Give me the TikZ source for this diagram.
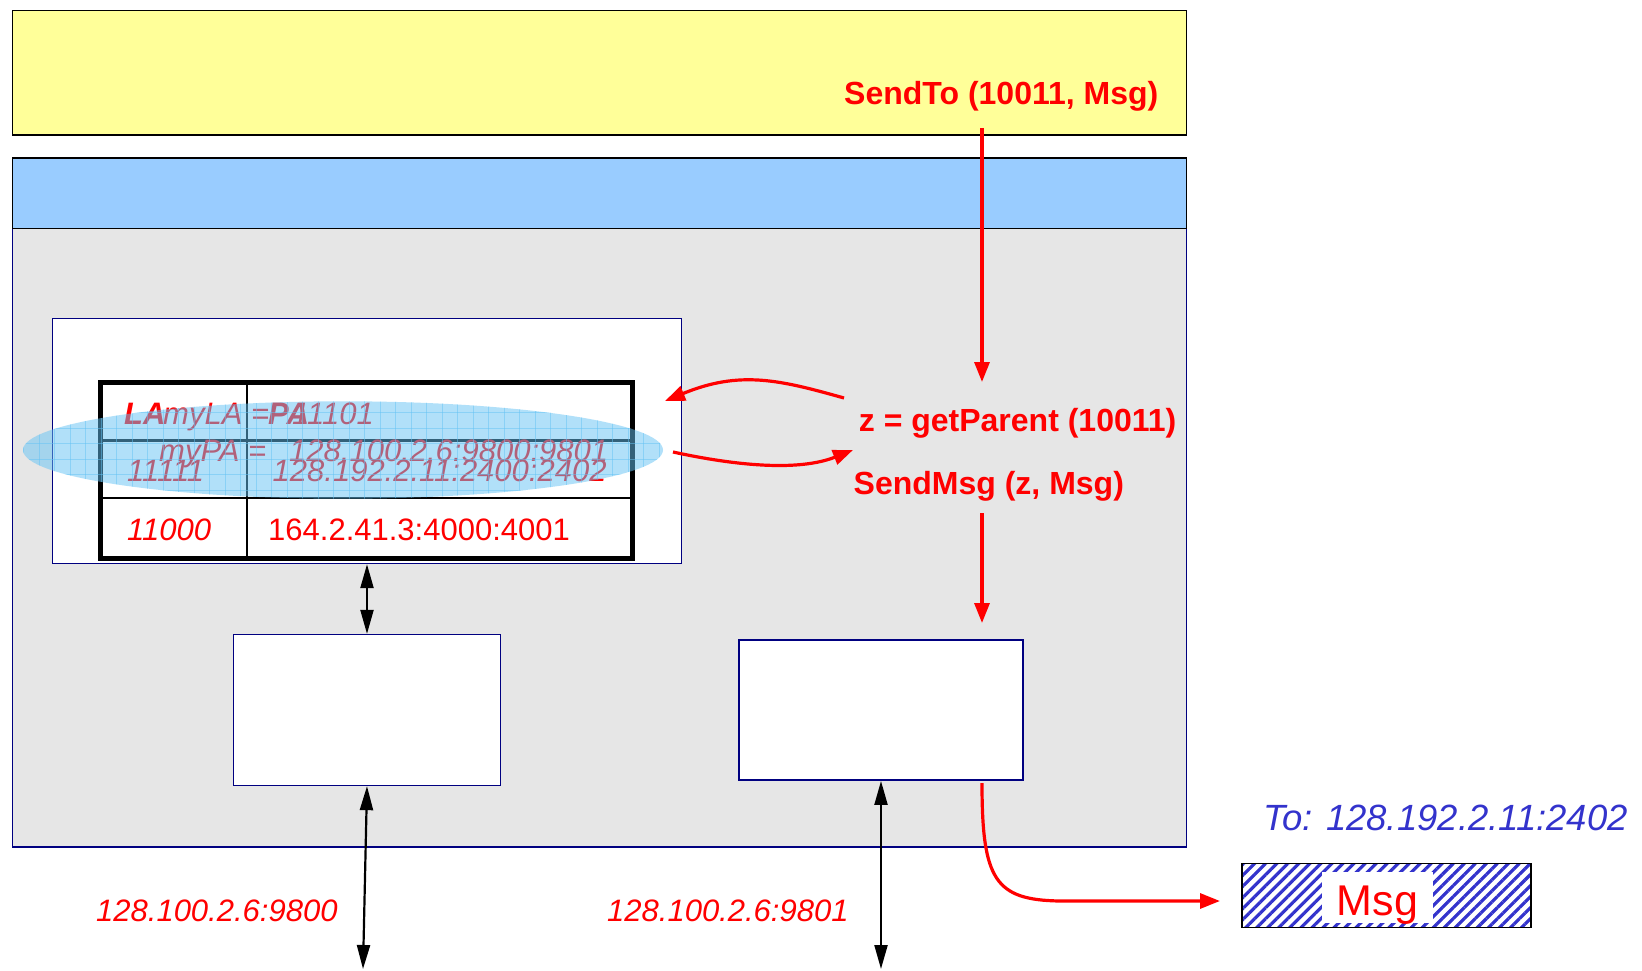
\documentclass[tikz,border=0pt]{standalone}
\usepackage{fontspec}
\setmainfont{Liberation Sans}
\usetikzlibrary{arrows.meta,patterns.meta,positioning}
\definecolor{appyellow}{RGB}{255,255,153}
\definecolor{hdrblue}{RGB}{153,204,255}
\definecolor{bodygray}{RGB}{230,230,230}
\definecolor{navy}{RGB}{0,0,128}
\definecolor{hatchblue}{RGB}{51,51,204}
\definecolor{ovalblue}{RGB}{100,195,245}
\begin{document}
\begin{tikzpicture}[x=1pt,y=-1pt,
    box/.style={draw=navy,fill=white,line width=1.5pt,inner sep=0pt},
    call/.style={red,font=\fontsize{32}{36}\selectfont\bfseries,inner sep=0pt,anchor=base west},
    cell/.style={red,font=\fontsize{31}{35}\selectfont\itshape,inner sep=0pt,anchor=base west},
    head/.style={cell,font=\fontsize{31}{35}\selectfont\bfseries\itshape},
    redarrow/.style={red,line width=3.2pt,-{Triangle[length=20pt,width=15pt]}},
    blackarrow/.style={black,line width=2.2pt,{Triangle[length=24pt,width=13pt]}-{Triangle[length=24pt,width=13pt]}}]
\useasboundingbox (0,0) rectangle (1642,971);

% layers
\node[draw=navy,fill=bodygray,line width=1.5pt,minimum width=1174,minimum height=618.7,inner sep=0pt] (body) at (599.5,537.7) {};
\node[draw=black,fill=hdrblue,line width=1.5pt,minimum width=1174,minimum height=70.3,inner sep=0pt] (hdr) at (599.5,193.2) {};
\node[draw=black,fill=appyellow,line width=1.5pt,minimum width=1174,minimum height=124.5,inner sep=0pt] (app) at (599.5,72.8) {};

% boxes
\node[box,minimum width=629.3,minimum height=245.1] (tblbox) at (367,440.9) {};
\node[box,minimum width=267,minimum height=150.8] (lbox) at (367,710) {};
\node[box,minimum width=283.7,minimum height=140.4] (rbox) at (881,710) {};

% table
\draw[line width=5pt] (100,382) rectangle (632,558);
\draw[line width=2.5pt] (100,440.7) -- (632,440.7) (100,498) -- (632,498) (247,382) -- (247,558);

\node[head] (la) at (124,424) {LA};
\node[head] (pa) at (268,424) {PA};
\node[cell] (myla) at (163,424) {myLA =};
\node[cell] (mylaval) at (292,424) {11101};
\node[cell] (mypa) at (159,461.7) {myPA =};
\node[cell] (mypaval) at (289,461.7) {128.100.2.6:9800:9801};
\node[cell] (la1) at (127,481.7) {11111};
\node[cell] (pa1) at (272.5,481.7) {128.192.2.11:2400:2402};
\node[cell] (la2) at (127,540) {11000};
\node[cell,font=\fontsize{31}{35}\selectfont] (pa2) at (268,540) {164.2.41.3:4000:4001};

% oval
\begin{scope}
  \clip (343,450) ellipse [x radius=320, y radius=48.7];
  \fill[ovalblue,fill opacity=0.5] (20,395) rectangle (670,505);
  \foreach \gx in {0,...,43}
    \draw[ovalblue,opacity=0.5,line width=0.9pt] (15.5*\gx+8,395) -- (15.5*\gx+8,505);
  \foreach \gy in {0,...,7}
    \draw[ovalblue,opacity=0.5,line width=0.9pt] (20,15.5*\gy+397) -- (670,15.5*\gy+397);
\end{scope}

% calls
\node[call] (sendto) at (844,105) {SendTo (10011, Msg)};
\node[call] (getparent) at (858.7,431) {z = getParent (10011)};
\node[call] (sendmsg) at (853.5,494) {SendMsg (z, Msg)};

\coordinate (a1) at (982,128);
\coordinate (a2) at (982,382);
\coordinate (b1) at (982,513);
\coordinate (b2) at (982,623);
\coordinate (c1) at (844,398);
\coordinate (c2) at (665,401);
\coordinate (d1) at (673,452);
\coordinate (d2) at (853,450);
\coordinate (e1) at (982,783);
\coordinate (e2) at (1220,901);
\coordinate (lnet) at (363,969);
\coordinate (rnet) at (881,969);

\draw[redarrow] (a1) -- (a2);
\draw[redarrow] (b1) -- (b2);
\draw[redarrow] (c1) .. controls (780,380) and (740,370) .. (c2);
\draw[redarrow] (d1) .. controls (710,460) and (790,475) .. (d2);
\draw[redarrow] (e1) .. controls (982,880) and (995,900) .. (1060,901) -- (e2);

\draw[blackarrow] (tblbox.south) -- (lbox.north);
\draw[blackarrow] (lbox.south) -- (lnet);
\draw[blackarrow] (rbox.south) -- (rnet);

% addresses
\node[cell] (lport) at (96,921.5) {128.100.2.6:9800};
\node[cell] (rport) at (607,921.5) {128.100.2.6:9801};
\node[cell,hatchblue,font=\fontsize{36.5}{40}\selectfont\itshape] (to) at (1263,830) {To: 128.192.2.11:2402};

% message
\node[draw=black,line width=1.5pt,minimum width=289,minimum height=64,inner sep=0pt,
      pattern={Lines[angle=45,distance=7.8pt,line width=3.2pt]},pattern color=hatchblue] (msgbox) at (1386.5,895.5) {};
\node[fill=white,inner sep=0pt,minimum width=111.3,text height=43.3pt,text depth=8.3pt,
      anchor=base,text=red,font=\fontsize{43}{47}\selectfont] (msg) at (1377.5,915) {Msg};
\end{tikzpicture}
\end{document}
